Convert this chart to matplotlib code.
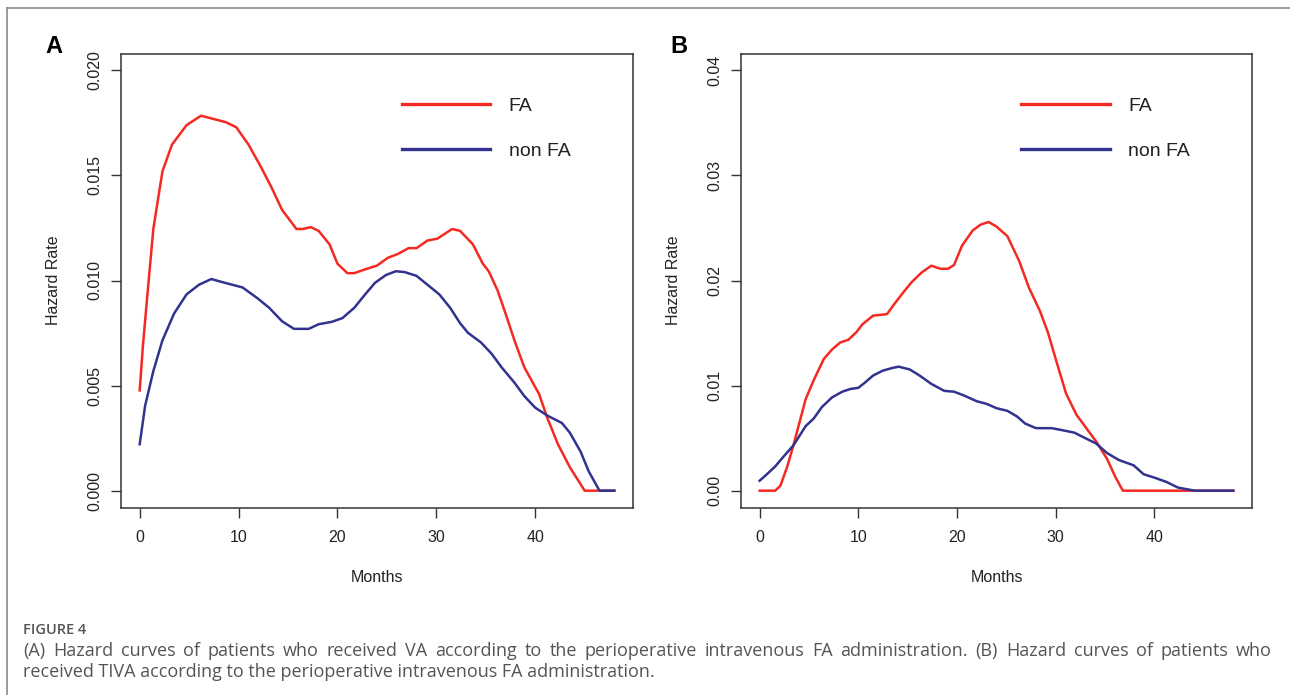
import matplotlib
matplotlib.use("Agg")
import matplotlib.pyplot as plt
from matplotlib.lines import Line2D
import numpy as np

# ---------------- data ----------------
a_fa_x = [0, 0.34, 0.75, 1.38, 2.3, 3.27, 4.74, 6.2, 7.67, 8.72, 9.77, 11.0, 12.3, 13.3, 14.4,
          15.85, 16.5, 17.3, 18.1, 19.2, 20.0, 21.0, 21.7, 22.8, 24.0, 25.1, 26.1, 27.2, 28.0,
          29.1, 30.1, 31.6, 32.4, 33.7, 34.7, 35.3, 36.2, 37.0, 37.9, 38.9, 40.4, 41.2, 42.3,
          43.5, 45.0, 46.5, 48.0]
a_fa_y = [0.00477, 0.00697, 0.00916, 0.01245, 0.01519, 0.01647, 0.01739, 0.01784, 0.01766,
          0.01753, 0.01729, 0.01647, 0.01537, 0.01446, 0.01336, 0.01245, 0.01245, 0.01254,
          0.01236, 0.01172, 0.01080, 0.01035, 0.01035, 0.01053, 0.01071, 0.01108, 0.01126,
          0.01154, 0.01154, 0.01190, 0.01199, 0.01245, 0.01236, 0.01172, 0.01080, 0.01044,
          0.00952, 0.00843, 0.00715, 0.00587, 0.00459, 0.00349, 0.00221, 0.00112, 0.0, 0.0, 0.0]

a_non_x = [0, 0.55, 1.38, 2.3, 3.48, 4.74, 6.0, 7.25, 8.3, 9.35, 10.4, 11.9, 13.1, 14.4, 15.6,
           17.1, 18.1, 19.4, 20.5, 21.7, 22.8, 23.8, 24.9, 25.9, 26.8, 28.0, 29.1, 30.3, 31.4,
           32.4, 33.2, 34.5, 35.6, 36.6, 37.9, 38.9, 40.0, 41.2, 42.7, 43.5, 44.6, 45.4, 46.5, 48.0]
a_non_y = [0.00221, 0.00404, 0.00569, 0.00715, 0.00843, 0.00934, 0.00980, 0.01007, 0.00993,
           0.00980, 0.00967, 0.00916, 0.00870, 0.00806, 0.00770, 0.00770, 0.00792, 0.00803,
           0.00821, 0.00870, 0.00934, 0.00989, 0.01026, 0.01044, 0.01040, 0.01022, 0.00980,
           0.00934, 0.00870, 0.00797, 0.00751, 0.00706, 0.00651, 0.00587, 0.00514, 0.00450,
           0.00395, 0.00358, 0.00322, 0.00276, 0.00185, 0.00093, 0.0, 0.0]

b_fa_x = [0, 1.57, 2.1, 2.8, 3.42, 4.04, 4.66, 5.48, 6.5, 7.34, 8.16, 8.99, 9.81, 10.4, 11.5,
          12.9, 13.7, 14.6, 15.4, 16.4, 17.4, 18.3, 19.1, 19.7, 20.5, 21.6, 22.4, 23.2, 24.0,
          25.1, 26.3, 27.3, 28.4, 29.2, 30.0, 31.05, 32.1, 33.1, 34.1, 35.2, 36.0, 36.8, 48.0]
b_fa_y = [0.0, 0.0, 0.00047, 0.0023, 0.00431, 0.0065, 0.0087, 0.01052, 0.01253, 0.01344,
          0.0141, 0.01436, 0.01509, 0.01582, 0.01666, 0.0168, 0.01783, 0.01892, 0.01984,
          0.02075, 0.02141, 0.02112, 0.02112, 0.02148, 0.02331, 0.02477, 0.02532, 0.02557,
          0.02513, 0.02422, 0.02185, 0.01929, 0.0171, 0.01509, 0.01253, 0.00924, 0.00723,
          0.00595, 0.00468, 0.00303, 0.00139, 0.0, 0.0]

b_non_x = [0, 0.74, 1.57, 2.39, 3.42, 4.66, 5.48, 6.31, 7.34, 8.37, 9.2, 10.0, 10.6, 11.5, 12.5,
           13.5, 14.1, 15.2, 16.2, 17.4, 18.7, 19.7, 20.7, 22.0, 23.0, 24.0, 25.1, 26.1, 26.9,
           28.0, 29.6, 30.6, 31.9, 32.9, 34.1, 35.2, 36.4, 37.9, 38.9, 40.1, 41.2, 42.4, 44.1, 48.0]
b_non_y = [0.00095, 0.00157, 0.0023, 0.00321, 0.00431, 0.00614, 0.00687, 0.00796, 0.00888,
           0.00942, 0.00968, 0.00979, 0.01023, 0.01096, 0.01143, 0.01169, 0.0118, 0.01154,
           0.01096, 0.01016, 0.0095, 0.00942, 0.00906, 0.00851, 0.00826, 0.00785, 0.0076,
           0.00705, 0.00639, 0.00595, 0.00595, 0.00577, 0.00552, 0.00504, 0.00449, 0.00358,
           0.00292, 0.00241, 0.00157, 0.00121, 0.00084, 0.00029, 0.0, 0.0]

x_ticks = [0, 10, 20, 30, 40]
a_y_ticks = [0.000, 0.005, 0.010, 0.015, 0.020]
a_y_labels = ["0.000", "0.005", "0.010", "0.015", "0.020"]
b_y_ticks = [0.00, 0.01, 0.02, 0.03, 0.04]
b_y_labels = ["0.00", "0.01", "0.02", "0.03", "0.04"]
series_labels = ["FA", "non FA"]
panel_letters = ["A", "B"]
caption_title = "FIGURE 4"
caption_line1 = ("(A) Hazard curves of patients who received VA according to the perioperative "
                 "intravenous FA administration. (B) Hazard curves of patients who")
caption_line2 = "received TIVA according to the perioperative intravenous FA administration."

# ---------------- figure ----------------
W, H = 1290, 695
fig = plt.figure(figsize=(W / 100, H / 100), dpi=100)
fig.patch.set_facecolor("white")

RED = "#F42A22"
BLUE = "#31338F"
AX_COL = "#333333"
PLOT_FONT = ["Liberation Sans", "DejaVu Sans"]


def fx(px):
    return px / W


def fy(py):
    return 1 - py / H


def make_panel(left_px, right_px, fa_x, fa_y, non_x, non_y, yticks, ylabels, ylim, letter, letter_x):
    top_px, bot_px = 53.5, 507.5
    ax = fig.add_axes([fx(left_px), fy(bot_px), (right_px - left_px) / W, (bot_px - top_px) / H])
    ax.plot(fa_x, fa_y, color=RED, lw=1.8, label=series_labels[0], solid_joinstyle="round")
    ax.plot(non_x, non_y, color=BLUE, lw=1.8, label=series_labels[1], solid_joinstyle="round")
    ax.set_xlim(-1.92, 49.92)
    ax.set_ylim(*ylim)
    ax.set_xticks(x_ticks)
    ax.set_xticklabels([str(t) for t in x_ticks], family=PLOT_FONT, fontsize=11.5, color="#222222")
    ax.set_yticks(yticks)
    ax.set_yticklabels(ylabels, family=PLOT_FONT, fontsize=11.5, color="#222222",
                       rotation=90, va="center")
    ax.tick_params(axis="both", direction="out", length=7, width=1.0, color=AX_COL)
    ax.tick_params(axis="x", pad=9)
    ax.tick_params(axis="y", pad=6)
    for s in ax.spines.values():
        s.set_color(AX_COL)
        s.set_linewidth(1.1)
    ax.set_xlabel("Months", family=PLOT_FONT, fontsize=11.5, color="#222222")
    ax.xaxis.set_label_coords(0.5, (bot_px - 578) / (bot_px - top_px))
    ax.xaxis.label.set_va("center")
    ax.set_ylabel("Hazard Rate", family=PLOT_FONT, fontsize=11.5, color="#222222")
    ax.yaxis.set_label_coords(-67.7 / (right_px - left_px), 0.5)
    ax.yaxis.label.set_va("center")
    leg = ax.legend(loc="upper left", bbox_to_anchor=(0.548, 0.904), frameon=False,
                    prop={"family": PLOT_FONT, "size": 14}, handlelength=4.55,
                    handletextpad=0.95, labelspacing=1.42, borderpad=0, borderaxespad=0)
    for line in leg.get_lines():
        line.set_linewidth(2.4)
    for t in leg.get_texts():
        t.set_color("#222222")
    fig.text(fx(letter_x), fy(46.5), letter, family=PLOT_FONT, fontsize=17, fontweight="bold",
             ha="center", va="center", color="black")
    return ax


make_panel(120.7, 633.3, a_fa_x, a_fa_y, a_non_x, a_non_y, a_y_ticks, a_y_labels,
           (-0.0008, 0.0208), panel_letters[0], 54)
make_panel(740.7, 1252.3, b_fa_x, b_fa_y, b_non_x, b_non_y, b_y_ticks, b_y_labels,
           (-0.0016, 0.0416), panel_letters[1], 679)

# outer frame lines
fig.add_artist(Line2D([fx(7.3), fx(7.3)], [fy(8), fy(H + 5)], color="#8a8a8a", lw=1.2))
fig.add_artist(Line2D([fx(7.3), fx(W + 5)], [fy(8), fy(8)], color="#8a8a8a", lw=1.2))

# caption
CAP_FONT = ["Open Sans", "DejaVu Sans"]
CAP_COL = "#555555"
fig.text(fx(23), fy(630), caption_title, family=CAP_FONT, fontsize=10.5, fontweight="semibold",
         color=CAP_COL, ha="left", va="center")

fig.canvas.draw()
renderer = fig.canvas.get_renderer()
words = caption_line1.split(" ")
wtexts = [fig.text(0, fy(651), w, family=CAP_FONT, fontsize=13, color=CAP_COL,
                   ha="left", va="center") for w in words]
widths = [t.get_window_extent(renderer).width for t in wtexts]
x0, x1 = 23, 1272
gap = (x1 - x0 - sum(widths)) / (len(words) - 1)
cx = x0
for t, w in zip(wtexts, widths):
    t.set_x(fx(cx))
    cx += w + gap
fig.text(fx(23), fy(672), caption_line2, family=CAP_FONT, fontsize=13, color=CAP_COL,
         ha="left", va="center")

fig.savefig("out.png", dpi=100, facecolor="white")
